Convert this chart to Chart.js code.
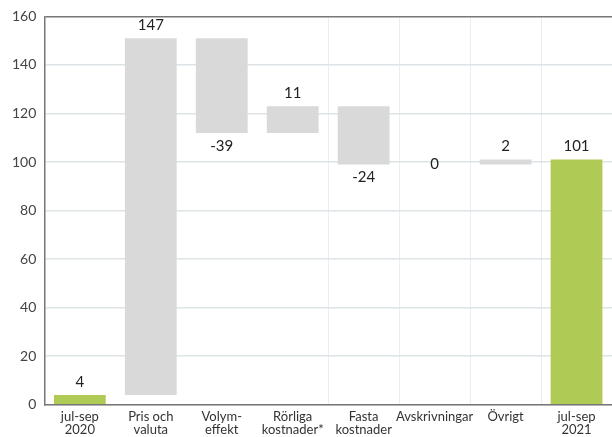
<!DOCTYPE html>
<html>
<head>
<meta charset="utf-8">
<script src="https://cdn.jsdelivr.net/npm/chart.js@4/dist/chart.umd.min.js"></script>
<style>
  html, body { margin: 0; padding: 0; background: #fff; overflow: hidden; }
  canvas { display: block; }
</style>
</head>
<body>
<canvas id="myChart" width="612" height="442"></canvas>
<script>
// kategorier och värden (mkr)
var kategorier = [['jul-sep', '2020'], ['Pris och', 'valuta'], ['Volym-', 'effekt'], ['Rörliga', 'kostnader*'],
    ['Fasta', 'kostnader'], 'Avskrivningar', 'Övrigt', ['jul-sep', '2021']];
var forandring = [4, 147, -39, 11, -24, 0, 2, 101];
var arSumma = [true, false, false, false, false, false, false, true];
var yTicks = [0, 20, 40, 60, 80, 100, 120, 140, 160];

var gron = '#b0cb55';
var gra = '#d9d9d9';

// bygg flytande staplar
var staplar = [];
var farger = [];
var niva = 0;
for (var i in forandring) {
    if (arSumma[i]) {
        staplar.push([0, forandring[i]]);
        niva = forandring[i];
        farger.push(gron);
    } else {
        staplar.push([niva, niva + forandring[i]]);
        niva = niva + forandring[i];
        farger.push(gra);
    }
}

var etiketter = {
    id: 'etiketter',
    afterDatasetsDraw: function (chart) {
        var ctx = chart.ctx;
        var meta = chart.getDatasetMeta(0);
        var y = chart.scales.y;
        ctx.save();
        ctx.font = '15px Lato, "Open Sans", sans-serif';
        ctx.fillStyle = '#222';
        ctx.textAlign = 'center';
        ctx.textBaseline = 'middle';
        meta.data.forEach(function (bar, i) {
            var v = forandring[i];
            var d = staplar[i];
            var top = y.getPixelForValue(Math.max(d[0], d[1]));
            var bot = y.getPixelForValue(Math.min(d[0], d[1]));
            var py;
            if (v > 0) py = top - 13;
            else if (v < 0) py = bot + 13;
            else py = top;
            ctx.fillText(String(v), bar.x, py);
        });
        ctx.restore();
    }
};

var ctx = document.getElementById('myChart').getContext('2d');

var chart = new Chart(ctx, {
    type: 'bar',
    data: {
        labels: kategorier,
        datasets: [{
            data: staplar,
            backgroundColor: farger,
            borderWidth: 0,
            barPercentage: 0.73,
            categoryPercentage: 1
        }]
    },
    options: {
        responsive: false,
        animation: false,
        layout: { padding: { top: 10, right: 0, left: 4, bottom: 0 } },
        plugins: {
            legend: { display: false },
            tooltip: { enabled: false }
        },
        scales: {
            x: {
                grid: {
                    offset: true,
                    drawTicks: false,
                    color: function (c) {
                        return c.index >= 4 ? '#e6eff3' : 'rgba(0,0,0,0)';
                    }
                },
                border: { color: '#777', width: 1.5 },
                ticks: {
                    color: '#333',
                    padding: 5,
                    maxRotation: 0,
                    autoSkip: false,
                    font: { family: 'Lato, "Open Sans", sans-serif', size: 13, lineHeight: 1.05 }
                }
            },
            y: {
                min: 0,
                max: 160,
                afterBuildTicks: function (axis) {
                    axis.ticks = yTicks.map(function (v) { return { value: v }; });
                },
                grid: {
                    drawTicks: false,
                    color: function (c) {
                        return c.tick && c.tick.value === 160 ? '#777' : '#dde3e6';
                    },
                    lineWidth: 1.5
                },
                border: { color: '#777', width: 1.5 },
                ticks: {
                    color: '#444',
                    padding: 8,
                    font: { family: 'Lato, "Open Sans", sans-serif', size: 14 }
                }
            }
        }
    },
    plugins: [etiketter]
});
</script>
</body>
</html>
